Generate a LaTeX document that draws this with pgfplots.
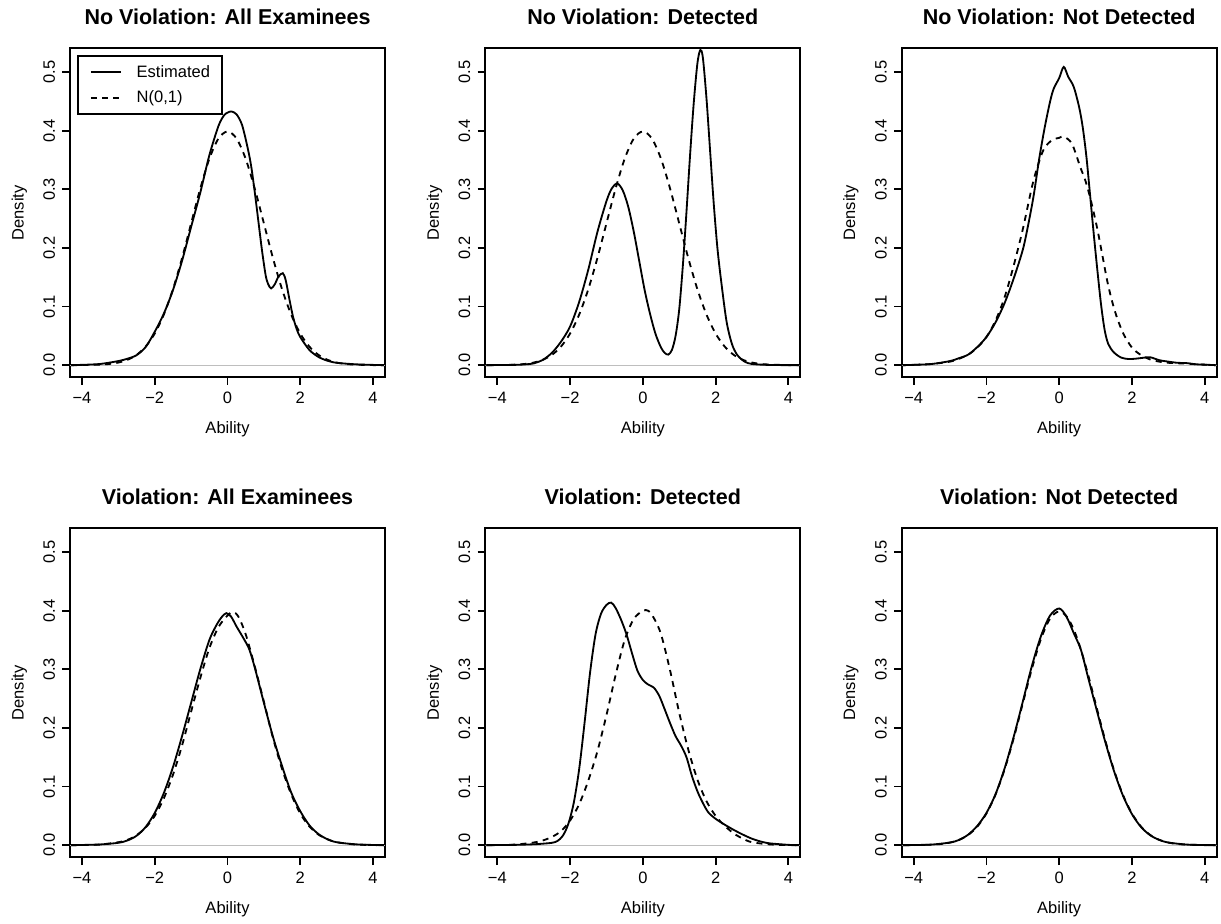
\documentclass[border=0pt]{standalone}
\usepackage{fontspec}
\setmainfont{Liberation Sans}
\usepackage{pgfplots}
\usepackage{pgfplotstable}
\pgfplotsset{compat=1.18}
\definecolor{rgray}{HTML}{BEBEBE}

% standard normal reference curve
\pgfplotstableread{
x y
-4.3 0.0000
-4.0 0.0001
-3.75 0.0004
-3.5 0.0009
-3.25 0.0020
-3.0 0.0044
-2.75 0.0091
-2.5 0.0175
-2.25 0.0317
-2.0 0.0540
-1.75 0.0863
-1.5 0.1295
-1.25 0.1826
-1.0 0.2420
-0.75 0.3011
-0.5 0.3521
-0.25 0.3867
0.0 0.3989
0.25 0.3867
0.5 0.3521
0.75 0.3011
1.0 0.2420
1.25 0.1826
1.5 0.1295
1.75 0.0863
2.0 0.0540
2.25 0.0317
2.5 0.0175
2.75 0.0091
3.0 0.0044
3.25 0.0020
3.5 0.0009
3.75 0.0004
4.0 0.0001
4.3 0.0000
}\normtab

\pgfplotsset{
  dens/.style={
    scale only axis, width=189pt, height=197.4pt,
    anchor=south west,
    xmin=-4.33, xmax=4.33, ymin=-0.0208, ymax=0.5408,
    axis line style={line width=1.1pt},
    xtick={-4,-2,0,2,4}, xticklabels={−4,−2,0,2,4},
    ytick={0,0.1,0.2,0.3,0.4,0.5}, yticklabels={0.0,0.1,0.2,0.3,0.4,0.5},
    tick align=outside, xtick pos=bottom, ytick pos=left,
    major tick length=4.6pt,
    tick style={black, line width=1.1pt},
    tick label style={font=\fontsize{9.9}{11}\selectfont, inner sep=0pt},
    xticklabel style={anchor=north},
    yticklabel style={rotate=90, anchor=south},
    xticklabel shift=4.2pt, yticklabel shift=4.2pt,
    label style={font=\fontsize{9.9}{11}\selectfont},
    xlabel=Ability, ylabel=Density,
    xlabel style={at={(axis description cs:0.5,-0.1707)}, anchor=base},
    ylabel style={at={(axis description cs:-0.1476,0.5)}, anchor=base},
    every axis title shift=0pt,
    title style={at={(axis description cs:0.5,1.0709)}, anchor=base,
      font=\fontsize{12.9}{15}\selectfont\bfseries},
    every axis plot/.append style={line width=1.1pt, smooth, no markers},
  },
  est/.style={black, solid},
  nrm/.style={black, dash pattern=on 3.6pt off 3.2pt},
  zero/.style={rgray, line width=0.7pt, sharp plot, forget plot},
}

\begin{document}
\begin{tikzpicture}
\path[use as bounding box] (0,0) rectangle (732.6pt,553.8pt);

% ---- row 1 ----
\begin{axis}[dens, at={(42pt,327.4pt)}, title={No Violation: All Examinees},
  legend cell align=left,
  legend image code/.code={\draw[#1] (0pt,0pt) -- (18pt,0pt);},
  legend style={at={(axis description cs:0.0232,0.9797)}, anchor=north west,
    draw=black, line width=1.1pt, inner xsep=7pt, inner ysep=5.5pt,
    row sep=6.5pt, column sep=9pt, nodes={inner sep=0pt},
    font=\fontsize{9.9}{11}\selectfont}]
\addplot[zero] coordinates {(-4.33,0) (4.33,0)};
\addplot[est] coordinates {(-4.3,0) (-4,0.0005) (-3.5,0.002) (-3,0.007) (-2.75,0.011) (-2.5,0.017) (-2.25,0.031) (-2,0.057) (-1.75,0.088) (-1.5,0.128) (-1.25,0.178) (-1,0.236) (-0.75,0.294) (-0.5,0.358) (-0.25,0.408) (-0.1,0.426) (0,0.431) (0.11,0.433) (0.25,0.428) (0.4,0.41) (0.55,0.372) (0.65,0.34) (0.75,0.295) (0.85,0.245) (0.95,0.195) (1.05,0.153) (1.12,0.138) (1.2,0.131) (1.3,0.138) (1.4,0.151) (1.52,0.157) (1.6,0.145) (1.7,0.113) (1.8,0.083) (1.9,0.062) (2,0.048) (2.25,0.026) (2.5,0.014) (2.75,0.0075) (3,0.004) (3.5,0.0015) (4,0.0004) (4.3,0)};
\addlegendentry{Estimated}
\addplot[nrm] table {\normtab};
\addlegendentry{N(0,1)}
\end{axis}

\begin{axis}[dens, at={(291.2pt,327.4pt)}, title={No Violation: Detected}]
\addplot[zero] coordinates {(-4.33,0) (4.33,0)};
\addplot[est] coordinates {(-4.3,0) (-3.5,0.0005) (-3.2,0.0015) (-3,0.003) (-2.75,0.009) (-2.5,0.021) (-2.25,0.040) (-2,0.066) (-1.75,0.108) (-1.5,0.163) (-1.25,0.227) (-1,0.280) (-0.85,0.302) (-0.7,0.310) (-0.55,0.298) (-0.4,0.270) (-0.25,0.228) (-0.1,0.178) (0.05,0.128) (0.2,0.087) (0.35,0.053) (0.5,0.030) (0.6,0.021) (0.7,0.018) (0.8,0.026) (0.9,0.050) (1,0.095) (1.1,0.170) (1.2,0.262) (1.3,0.360) (1.4,0.448) (1.5,0.515) (1.58,0.538) (1.65,0.525) (1.75,0.455) (1.85,0.365) (1.95,0.275) (2.05,0.200) (2.15,0.145) (2.3,0.075) (2.45,0.036) (2.6,0.017) (2.8,0.006) (3,0.002) (3.5,0.0003) (4.3,0)};
\addplot[nrm] table {\normtab};
\end{axis}

\begin{axis}[dens, at={(541pt,327.4pt)}, title={No Violation: Not Detected}]
\addplot[zero] coordinates {(-4.33,0) (4.33,0)};
\addplot[est] coordinates {(-4.3,0) (-4,0.0005) (-3.5,0.002) (-3,0.007) (-2.75,0.012) (-2.5,0.018) (-2.25,0.031) (-2,0.048) (-1.75,0.073) (-1.5,0.106) (-1.25,0.148) (-1,0.197) (-0.85,0.24) (-0.7,0.29) (-0.55,0.352) (-0.4,0.405) (-0.25,0.45) (-0.15,0.472) (0,0.49) (0.125,0.509) (0.25,0.492) (0.4,0.475) (0.55,0.44) (0.65,0.405) (0.75,0.355) (0.85,0.29) (0.95,0.224) (1.05,0.162) (1.15,0.104) (1.25,0.06) (1.35,0.036) (1.5,0.022) (1.7,0.013) (1.9,0.0105) (2.1,0.011) (2.3,0.0125) (2.5,0.0135) (2.75,0.0085) (3,0.006) (3.25,0.004) (3.5,0.0035) (3.75,0.0015) (4,0.0008) (4.3,0)};
\addplot[nrm] coordinates {(-4.3,0) (-4,0.0005) (-3.5,0.002) (-3,0.006) (-2.75,0.011) (-2.5,0.018) (-2.25,0.03) (-2,0.048) (-1.75,0.076) (-1.5,0.116) (-1.25,0.17) (-1,0.232) (-0.75,0.304) (-0.6,0.338) (-0.42,0.369) (-0.2,0.384) (0,0.388) (0.125,0.39) (0.35,0.378) (0.58,0.338) (0.72,0.315) (0.86,0.284) (1.04,0.235) (1.18,0.19) (1.32,0.144) (1.45,0.11) (1.59,0.081) (1.77,0.053) (2,0.030) (2.23,0.018) (2.5,0.0097) (2.75,0.006) (3,0.004) (3.5,0.0025) (4,0.0008) (4.3,0)};
\end{axis}

% ---- row 2 ----
\begin{axis}[dens, at={(42pt,39.4pt)}, title={Violation: All Examinees}]
\addplot[zero] coordinates {(-4.33,0) (4.33,0)};
\addplot[est] coordinates {(-4.3,0) (-4,0.0003) (-3.5,0.0012) (-3,0.004) (-2.75,0.008) (-2.5,0.016) (-2.25,0.031) (-2,0.055) (-1.75,0.089) (-1.5,0.133) (-1.25,0.186) (-1,0.243) (-0.75,0.300) (-0.5,0.350) (-0.3,0.376) (-0.15,0.390) (-0.03,0.396) (0.1,0.390) (0.25,0.373) (0.45,0.352) (0.6,0.334) (0.75,0.303) (1,0.243) (1.25,0.185) (1.5,0.135) (1.75,0.090) (2,0.058) (2.25,0.034) (2.5,0.019) (2.75,0.010) (3,0.005) (3.5,0.0015) (4,0.0003) (4.3,0)};
\addplot[nrm] coordinates {(-4.3,0) (-4,0.0002) (-3.5,0.001) (-3,0.005) (-2.75,0.009) (-2.5,0.017) (-2.25,0.030) (-2,0.050) (-1.75,0.080) (-1.5,0.120) (-1.25,0.170) (-1,0.228) (-0.75,0.285) (-0.5,0.336) (-0.25,0.372) (0,0.392) (0.15,0.398) (0.3,0.390) (0.5,0.360) (0.75,0.305) (1,0.245) (1.25,0.183) (1.5,0.130) (1.75,0.087) (2,0.054) (2.25,0.032) (2.5,0.018) (2.75,0.010) (3,0.005) (3.5,0.0012) (4,0.0002) (4.3,0)};
\end{axis}

\begin{axis}[dens, at={(291.2pt,39.4pt)}, title={Violation: Detected}]
\addplot[zero] coordinates {(-4.33,0) (4.33,0)};
\addplot[est] coordinates {(-4.3,0) (-3.5,0.0005) (-3,0.0015) (-2.75,0.0025) (-2.5,0.004) (-2.35,0.007) (-2.2,0.016) (-2.05,0.036) (-1.9,0.072) (-1.75,0.13) (-1.6,0.21) (-1.45,0.295) (-1.3,0.36) (-1.15,0.395) (-1,0.41) (-0.87,0.414) (-0.75,0.405) (-0.6,0.385) (-0.45,0.36) (-0.3,0.328) (-0.15,0.298) (0,0.282) (0.15,0.274) (0.3,0.269) (0.45,0.255) (0.6,0.232) (0.75,0.208) (0.9,0.186) (1.05,0.17) (1.2,0.15) (1.35,0.118) (1.5,0.092) (1.65,0.072) (1.8,0.056) (2,0.045) (2.25,0.035) (2.5,0.026) (2.75,0.018) (3,0.011) (3.25,0.006) (3.5,0.003) (4,0.0005) (4.3,0)};
\addplot[nrm] coordinates {(-4.3,0) (-4,0.0001) (-3.5,0.001) (-3,0.0045) (-2.75,0.008) (-2.5,0.014) (-2.25,0.024) (-2,0.042) (-1.75,0.07) (-1.5,0.11) (-1.25,0.16) (-1,0.222) (-0.75,0.29) (-0.5,0.35) (-0.25,0.386) (0,0.40) (0.15,0.40) (0.3,0.388) (0.5,0.36) (0.75,0.298) (1,0.226) (1.25,0.163) (1.5,0.112) (1.75,0.075) (2,0.05) (2.25,0.033) (2.5,0.02) (2.75,0.011) (3,0.005) (3.5,0.0012) (4,0.0002) (4.3,0)};
\end{axis}

\begin{axis}[dens, at={(541pt,39.4pt)}, title={Violation: Not Detected}]
\addplot[zero] coordinates {(-4.33,0) (4.33,0)};
\addplot[est] coordinates {(-4.3,0) (-4,0.0002) (-3.5,0.001) (-3,0.0045) (-2.75,0.009) (-2.5,0.018) (-2.25,0.033) (-2,0.055) (-1.75,0.087) (-1.5,0.131) (-1.25,0.185) (-1,0.245) (-0.75,0.306) (-0.5,0.357) (-0.25,0.392) (0,0.404) (0.2,0.39) (0.4,0.362) (0.6,0.333) (0.8,0.285) (1,0.238) (1.25,0.18) (1.5,0.128) (1.75,0.085) (2,0.053) (2.25,0.031) (2.5,0.017) (2.75,0.009) (3,0.0045) (3.5,0.001) (4,0.0002) (4.3,0)};
\addplot[nrm] table {\normtab};
\end{axis}
\end{tikzpicture}
\end{document}
